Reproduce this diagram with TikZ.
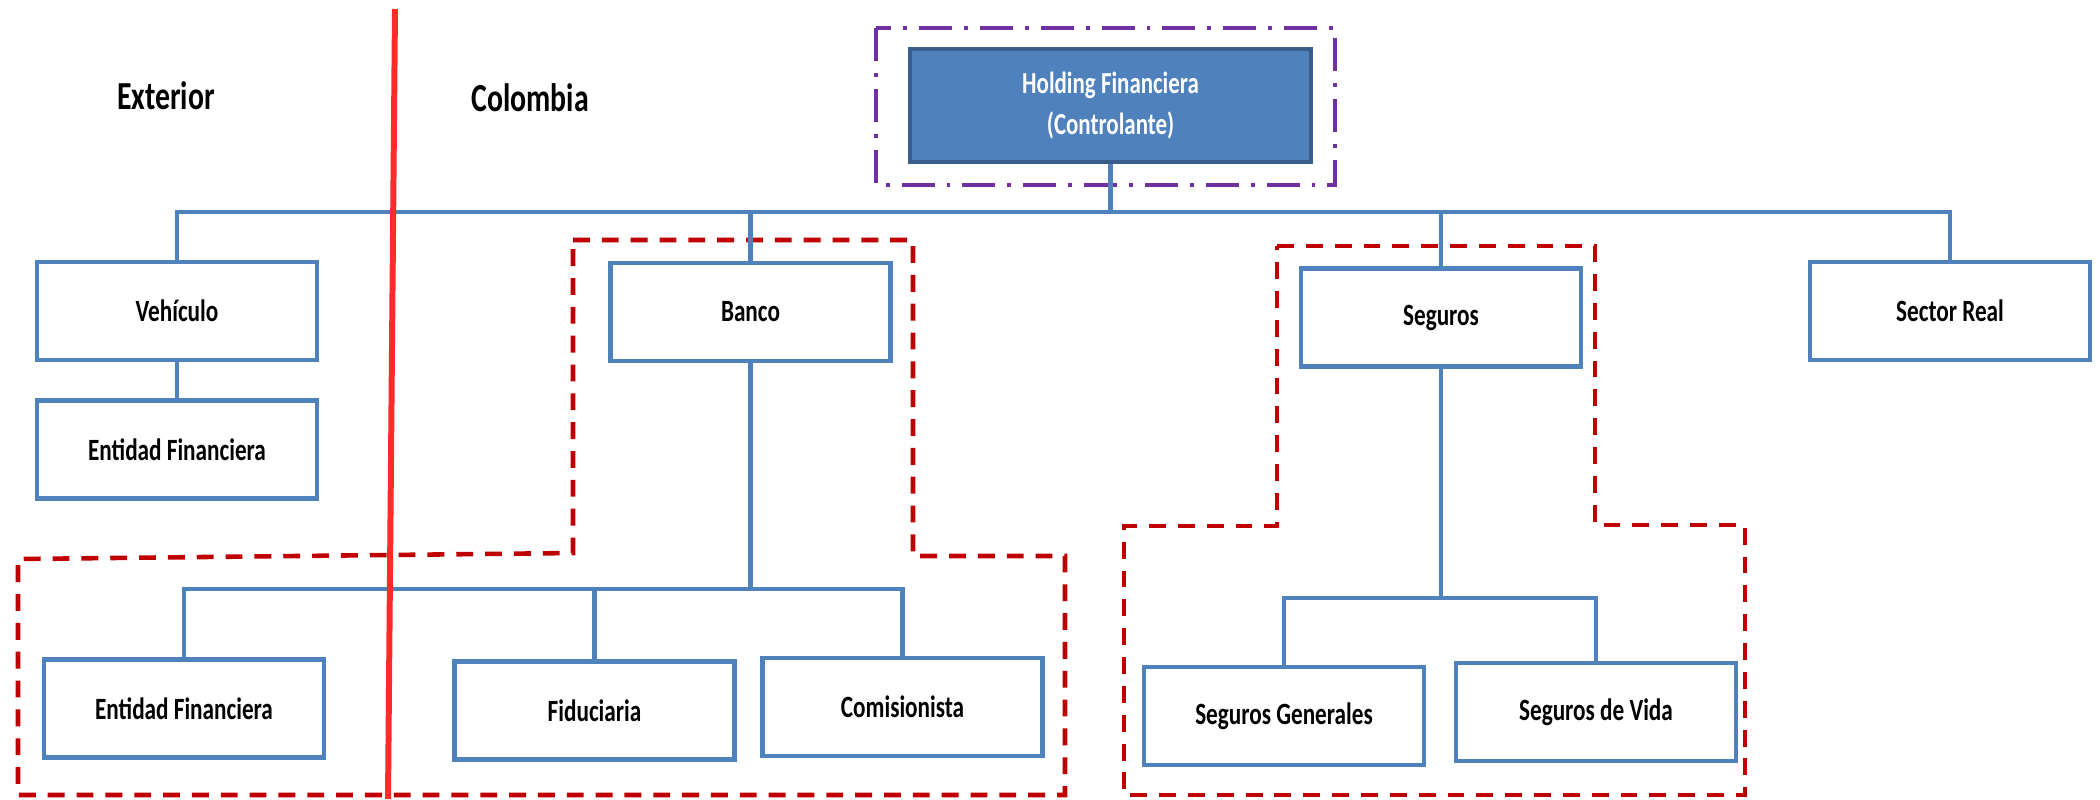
\documentclass[tikz,border=0pt]{standalone}
\usepackage{fontspec}
\newfontfamily\calib{Carlito}[FakeStretch=0.75]
\definecolor{azul}{HTML}{4F81BD}
\definecolor{azulosc}{HTML}{385D8A}
\definecolor{granate}{HTML}{C00000}
\definecolor{morado}{HTML}{7030A0}
\definecolor{rojo}{HTML}{FF2B2B}

\begin{document}
\begin{tikzpicture}[x=0.01cm, y=-0.01cm,
  caja/.style={draw=azul, line width=1.2pt, fill=white, minimum width=2.8cm, minimum height=0.98cm, align=center, font=\calib\bfseries\fontsize{8.8}{11}\selectfont},
  linea/.style={azul, line width=1.2pt},
  zona/.style={granate, line width=1.3pt, dash pattern=on 4.8pt off 3.4pt},
  titulo/.style={font=\calib\bfseries\fontsize{11.3}{13}\selectfont}]
\useasboundingbox (0,0) rectangle (2100,799);
\draw[zona] (573,240) -- (913,240) -- (913,556) -- (1065,556) -- (1065,795) -- (18,795) -- (18,559) -- (573,553) -- cycle;
\draw[zona] (1277,246) -- (1595,246) -- (1595,525) -- (1745,525) -- (1745,795) -- (1124,795) -- (1124,526) -- (1277,526) -- cycle;
\draw[morado, line width=1.2pt, dash pattern=on 9.4pt off 3.4pt on 1.1pt off 3.4pt] (876,28) rectangle (1335,185);
\node[caja, fill=azul, draw=azulosc, text=white, minimum width=4.01cm, minimum height=1.13cm, font=\calib\bfseries\fontsize{8.7}{11.5}\selectfont] (hold) at (1110.5,105.5) {Holding Financiera\\(Controlante)};
\foreach \n/\x/\y/\t in {veh/177/311/Vehículo, entext/177/449.5/Entidad Financiera, banco/750.5/312/Banco, seg/1441/317.5/Seguros, real/1950/311/Sector Real, entcol/184/708.5/Entidad Financiera, fidu/594.5/710.5/Fiduciaria, comi/902.5/707/Comisionista, gen/1284/716/Seguros Generales, vida/1596/712/Seguros de Vida}
  \node[caja] (\n) at (\x,\y) {\t};
\coordinate (bus) at (1110.5,212);
\coordinate (bbus) at (750.5,589);
\coordinate (sbus) at (1441,598);
\draw[linea] (hold.south) -- (bus);
\foreach \n in {veh,banco,seg,real}
  \draw[linea] (bus) -| (\n.north);
\draw[linea] (veh.south) -- (entext.north);
\draw[linea] (banco.south) -- (bbus);
\foreach \n in {entcol,fidu,comi}
  \draw[linea] (bbus) -| (\n.north);
\draw[linea] (seg.south) -- (sbus);
\foreach \n in {gen,vida}
  \draw[linea] (sbus) -| (\n.north);
\node[titulo] (exterior) at (166,96) {Exterior};
\node[titulo] (colombia) at (530,98) {Colombia};
\draw[rojo, line width=1.7pt] (395,9) -- (388,799);
\end{tikzpicture}
\end{document}
